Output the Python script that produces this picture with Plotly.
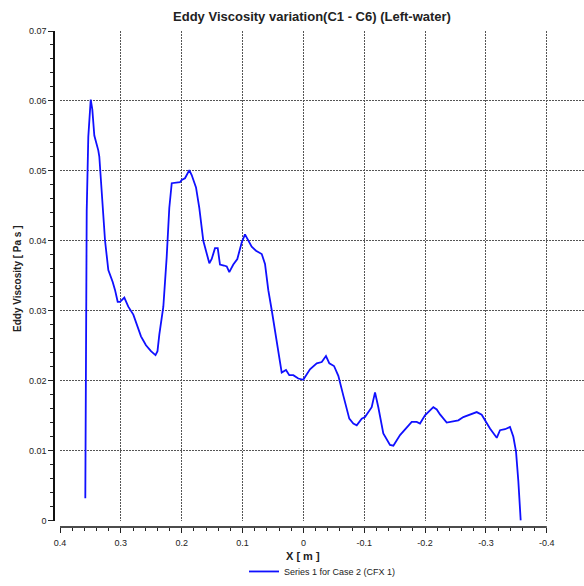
import plotly.graph_objects as go

# ---- data ----
x_m = [0.3584, 0.3561, 0.3535, 0.3495, 0.3469, 0.3436, 0.3371, 0.3354, 0.3260, 0.3206,
       0.3134, 0.3096, 0.3052, 0.3014, 0.2943, 0.2878, 0.2795, 0.2669, 0.2587, 0.2505,
       0.2431, 0.2398, 0.2368, 0.2302, 0.2247, 0.2204, 0.2164, 0.2028, 0.2000, 0.1946,
       0.1875, 0.1836, 0.1765, 0.1711, 0.1645, 0.1589, 0.1546, 0.1507, 0.1453, 0.1408,
       0.1371, 0.1305, 0.1260, 0.1218, 0.1152, 0.1086, 0.1014, 0.0960, 0.0906, 0.0850,
       0.0779, 0.0685, 0.0631, 0.0577, 0.0521, 0.0439, 0.0357, 0.0286, 0.0232, 0.0166,
       0.0084, 0.0002, -0.0108, -0.0219, -0.0301, -0.0371, -0.0426, -0.0503, -0.0574, -0.0656,
       -0.0754, -0.0820, -0.0876, -0.0958, -0.1012, -0.1122, -0.1177, -0.1231, -0.1313, -0.1423,
       -0.1478, -0.1588, -0.1698, -0.1780, -0.1862, -0.1916, -0.1998, -0.2053, -0.2135, -0.2191,
       -0.2245, -0.2355, -0.2463, -0.2546, -0.2628, -0.2710, -0.2848, -0.2930, -0.2984, -0.3066,
       -0.3177, -0.3231, -0.3313, -0.3395, -0.3450, -0.3494, -0.3532, -0.3571]
eddy_visc = [0.00318, 0.04428, 0.05487, 0.06020, 0.05880, 0.05506, 0.05294, 0.05205, 0.04004, 0.03581,
             0.03411, 0.03298, 0.03128, 0.03128, 0.03189, 0.03058, 0.02945, 0.02634, 0.02507, 0.02422,
             0.02366, 0.02422, 0.02658, 0.03058, 0.03764, 0.04470, 0.04824, 0.04838, 0.04870, 0.04894,
             0.05011, 0.04941, 0.04763, 0.04470, 0.04000, 0.03811, 0.03679, 0.03740, 0.03895, 0.03895,
             0.03661, 0.03647, 0.03633, 0.03552, 0.03661, 0.03740, 0.03976, 0.04093, 0.04008, 0.03915,
             0.03859, 0.03811, 0.03669, 0.03294, 0.03011, 0.02540, 0.02116, 0.02154, 0.02079, 0.02079,
             0.02031, 0.02013, 0.02164, 0.02249, 0.02267, 0.02352, 0.02249, 0.02210, 0.02069, 0.01787,
             0.01458, 0.01387, 0.01363, 0.01458, 0.01480, 0.01621, 0.01833, 0.01621, 0.01246, 0.01081,
             0.01071, 0.01222, 0.01339, 0.01410, 0.01410, 0.01387, 0.01504, 0.01551, 0.01621, 0.01589,
             0.01518, 0.01401, 0.01420, 0.01434, 0.01480, 0.01504, 0.01551, 0.01514, 0.01434, 0.01316,
             0.01184, 0.01292, 0.01306, 0.01339, 0.01198, 0.00986, 0.00562, 0.0]

series_name = "Series 1 for Case 2 (CFX 1)"
chart_title = "Eddy Viscosity variation(C1 - C6) (Left-water)"
x_title = "X [ m ]"
y_title = "Eddy Viscosity [ Pa s ]"

x_tick_vals = [0.4, 0.3, 0.2, 0.1, 0.0, -0.1, -0.2, -0.3, -0.4]
x_tick_text = ["0.4", "0.3", "0.2", "0.1", "0", "-0.1", "-0.2", "-0.3", "-0.4"]
x_minor_vals = [0.38, 0.36, 0.34, 0.32, 0.28, 0.26, 0.24, 0.22, 0.18, 0.16, 0.14, 0.12,
                0.08, 0.06, 0.04, 0.02, -0.02, -0.04, -0.06, -0.08, -0.12, -0.14, -0.16, -0.18,
                -0.22, -0.24, -0.26, -0.28, -0.32, -0.34, -0.36, -0.38]
y_tick_vals = [0, 0.01, 0.02, 0.03, 0.04, 0.05, 0.06, 0.07]
y_tick_text = ["0", "0.01", "0.02", "0.03", "0.04", "0.05", "0.06", "0.07"]
y_minor_vals = [0.002, 0.004, 0.006, 0.008, 0.012, 0.014, 0.016, 0.018, 0.022, 0.024, 0.026, 0.028,
                0.032, 0.034, 0.036, 0.038, 0.042, 0.044, 0.046, 0.048, 0.052, 0.054, 0.056, 0.058,
                0.062, 0.064, 0.066, 0.068]

FONT = "Liberation Sans"
TXT = "#222222"
GRID = "#555555"

fig = go.Figure()
fig.add_trace(go.Scatter(x=x_m, y=eddy_visc, mode="lines", name=series_name,
                         line=dict(color="#1010ff", width=1.8)))

fig.update_layout(
    width=584, height=586,
    margin=dict(l=54, r=0, t=31, b=53, pad=0),
    paper_bgcolor="white", plot_bgcolor="white",
    font=dict(family=FONT, color=TXT, size=9),
    title=dict(text="<b>" + chart_title + "</b>", xref="container", x=312 / 584, xanchor="center",
               yref="container", y=1 - 16 / 586, yanchor="middle",
               font=dict(family=FONT, size=13, color=TXT)),
    showlegend=True,
    legend=dict(orientation="h", xref="paper", x=(244 - 54) / 530, xanchor="left",
                yref="paper", y=(533 - 578) / 502, yanchor="middle",
                font=dict(family=FONT, size=9, color=TXT), bgcolor="rgba(0,0,0,0)"),
    xaxis=dict(domain=[6 / 530, 1], range=[0.4, -0.4611], autorange=False,
               anchor="free", position=0,
               tickmode="array", tickvals=x_tick_vals, ticktext=x_tick_text,
               ticks="outside", ticklen=5, tickwidth=1, tickcolor="#222222",
               ticklabelstandoff=2,
               tickfont=dict(family=FONT, size=9, color=TXT),
               showline=False, zeroline=False,
               showgrid=True, gridcolor=GRID, gridwidth=1, griddash="2px,1px",
               minor=dict(tickmode="array", tickvals=x_minor_vals, ticks="outside",
                          ticklen=3, tickcolor="#222222", showgrid=False)),
    yaxis=dict(domain=[6.5 / 502, 1], range=[0, 0.07], autorange=False,
               anchor="free", position=0,
               tickmode="array", tickvals=y_tick_vals, ticktext=y_tick_text,
               ticks="outside", ticklen=5, tickwidth=1, tickcolor="#222222",
               tickfont=dict(family=FONT, size=9, color=TXT),
               showline=True, linecolor="#111111", linewidth=1.5,
               zeroline=False,
               showgrid=True, gridcolor=GRID, gridwidth=1, griddash="2px,1px",
               minor=dict(tickmode="array", tickvals=y_minor_vals, ticks="outside",
                          ticklen=3, tickcolor="#222222", showgrid=False)),
)

# x-axis line drawn only over the labelled span (0.4 .. -0.4)
fig.add_shape(type="line", xref="x", yref="paper", x0=x_tick_vals[0], x1=x_tick_vals[-1],
              y0=0, y1=0, line=dict(color="#111111", width=1.5))

fig.add_annotation(text="<b>" + x_title + "</b>", xref="x", x=0.0, yref="paper",
                   y=(533 - 562) / 502, yanchor="middle", showarrow=False,
                   font=dict(family=FONT, size=11, color=TXT))
fig.add_annotation(text="<b>" + y_title + "</b>", xref="paper", x=(17 - 54) / 530,
                   xanchor="center", yref="paper", y=0.5, yanchor="middle",
                   textangle=-90, showarrow=False,
                   font=dict(family=FONT, size=10, color=TXT))

fig.write_html("out.html")
